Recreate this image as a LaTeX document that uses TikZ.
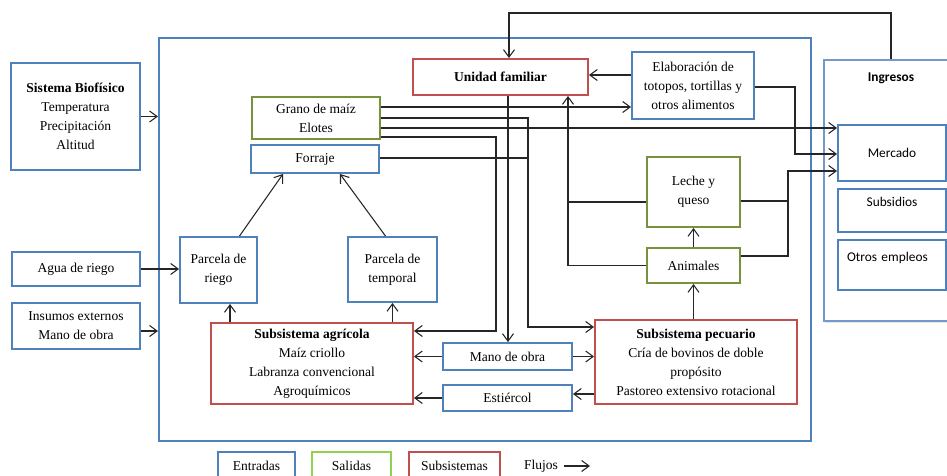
\documentclass[tikz,border=0pt]{standalone}
\usepackage{fontspec}
\setmainfont{Liberation Serif}
\newfontfamily\calibri{Carlito}
\usepackage{xcolor}
\usepackage{tikz}
\usetikzlibrary{arrows.meta,positioning,calc,shadows}
\definecolor{azul}{RGB}{79,129,189}
\definecolor{rojo}{RGB}{192,80,77}
\definecolor{verde}{RGB}{118,146,60}
\definecolor{verdeclaro}{RGB}{146,208,80}

\begin{document}
\begin{tikzpicture}[
    x=0.02cm, y=-0.02cm,
    sz/.style 2 args={minimum width=#1*0.02cm, minimum height=#2*0.02cm},
    caja/.style={rectangle, draw=azul, line width=1.1pt, fill=white, align=center, inner sep=1pt,
        font=\fontsize{7.7pt}{10.8pt}\selectfont},
    entrada/.style={caja, draw=azul},
    salida/.style={caja, draw=verde},
    subsis/.style={caja, draw=rojo},
    ingreso/.style={caja, draw=azul, font=\calibri\fontsize{7.6pt}{10.8pt}\selectfont},
    leyenda/.style={caja, line width=0.6pt},
    flujo/.style={-{Straight Barb[length=1.5mm,width=2.2mm]}, line width=0.6pt, draw=black!85},
    linea/.style={line width=0.6pt, draw=black!85}
]
    \fill[white] (0,0) rectangle (947,476);
    \useasboundingbox (0,0) rectangle (947,476);

    % marco de la unidad de produccion
    \node[rectangle, draw=azul, line width=1.2pt, sz={652}{403}] (finca) at (485,239.5) {};

    % entradas externas
    \node[entrada, sz={129}{107}] (bio) at (75.5,116.5)
        {\textbf{Sistema Biofísico}\\Temperatura\\Precipitación\\Altitud};
    \node[entrada, sz={128}{34}] (agua) at (76,269) {Agua de riego};
    \node[entrada, sz={128}{46}] (insumos) at (76,326) {Insumos externos\\Mano de obra};

    % dentro de la finca
    \node[subsis, sz={175}{36}] (unidad) at (500.5,77) {\textbf{Unidad familiar}};
    \node[entrada, sz={122}{67}] (elab) at (693,85.5)
        {Elaboración de\\totopos, tortillas y\\otros alimentos};
    \node[salida, sz={128}{42}] (grano) at (316,118) {Grano de maíz\\Elotes};
    \node[entrada, sz={128}{28}] (forraje) at (315,159) {Forraje};
    \node[entrada, sz={77}{66}] (riego) at (218.5,270) {Parcela de\\riego};
    \node[entrada, sz={89}{65}] (temporal) at (392.5,269.5) {Parcela de\\temporal};
    \node[subsis, sz={202}{81}] (agricola) at (312,363.5)
        {\textbf{Subsistema agrícola}\\Maíz criollo\\Labranza convencional\\Agroquímicos};
    \node[salida, sz={93}{70}] (leche) at (693.5,192) {Leche y\\queso};
    \node[salida, sz={93}{35}] (animales) at (693.5,265.5) {Animales};
    \node[subsis, sz={202}{84}] (pecuario) at (696,362)
        {\textbf{Subsistema pecuario}\\Cría de bovinos de doble\\propósito\\Pastoreo extensivo rotacional};
    \node[entrada, sz={129}{27}] (mano) at (507.5,356.5) {Mano de obra};
    \node[entrada, sz={129}{26}] (estiercol) at (507.5,398) {Estiércol};

    % ingresos
    \node[rectangle, draw=azul!80, line width=0.6pt, fill=white, sz={134}{261},
        drop shadow={opacity=0.2, shadow xshift=0.6pt, shadow yshift=-1.2pt}] (ingresos) at (891,190.5) {};
    \node[font=\calibri\bfseries\fontsize{7.6pt}{10pt}\selectfont] (ingtit) at (891,78) {Ingresos};
    \node[ingreso, sz={108}{56}] (mercado) at (892,153) {Mercado};
    \node[ingreso, sz={108}{43}] (subsidios) at (892,210.5) {Subsidios\\[-1pt]\mbox{}};
    \node[ingreso, text width=1.8cm, inner xsep=0.18cm, align=left, sz={108}{50}] (otros) at (892,265)
        {Otros empleos\\[-1pt]\mbox{}};

    % leyenda
    \node[leyenda, draw=azul, sz={77}{28}] (ley1) at (256.5,466) {Entradas};
    \node[leyenda, draw=verdeclaro, sz={79}{28}] (ley2) at (351.5,466) {Salidas};
    \node[leyenda, draw=rojo, sz={91}{28}] (ley3) at (454.5,466) {Subsistemas};
    \node[font=\fontsize{7.7pt}{10pt}\selectfont] (ley4) at (541,466) {Flujos};
    \coordinate (ley5) at (590,466);
    \draw[flujo] (ley4.east) -- (ley5);

    % flujos de entrada
    \draw[flujo] (bio.east) -- (bio.east -| finca.west);
    \draw[flujo] (agua.east) -- (agua.east -| riego.west);
    \draw[flujo] (insumos.east |- 0,331) -- (finca.west |- 0,331);

    % subsistema agricola
    \draw[flujo] ([xshift=0.23cm]riego.south |- agricola.north) -- ([xshift=0.23cm]riego.south);
    \draw[flujo] (temporal.south |- agricola.north) -- (temporal.south);
    \draw[flujo] ([xshift=0.42cm]riego.north) -- ([xshift=-0.64cm]forraje.south);
    \draw[flujo] ([xshift=-0.14cm]temporal.north) -- ([xshift=0.5cm]forraje.south);

    % salidas del maiz y forraje
    \coordinate (jpec) at (528,327);
    \coordinate (jagr) at (496,331);
    \draw[flujo] (grano.east |- 0,107) -- (elab.west |- 0,107);
    \draw[flujo] (grano.east |- 0,118) -| (jpec) -- (jpec -| pecuario.west);
    \draw[linea] (forraje.east |- 0,158) -| (jpec);
    \draw[flujo] (grano.east |- 0,128) -- (mercado.west |- 0,128);
    \draw[flujo] (grano.east |- 0,137) -| (jagr) -- (jagr -| agricola.east);

    % unidad familiar
    \draw[flujo] ([xshift=0.01cm]mano.north |- unidad.south) -- ([xshift=0.01cm]mano.north);
    \draw[flujo] (elab.west |- 0,75) -- (unidad.east |- 0,75);
    \draw[flujo] (elab.east |- 0,87) -| (795,154) -- (mercado.west |- 0,154);
    \draw[flujo] (ingresos.north) |- ([xshift=0.17cm]unidad.north |- 0,13) -- ([xshift=0.17cm]unidad.north);

    % subsistema pecuario
    \coordinate (juni) at (unidad.south -| 568,0);
    \coordinate (jmer) at (788,171);
    \draw[flujo] (animales.west) -| (juni);
    \draw[linea] (leche.west |- 0,202) -- (juni |- 0,202);
    \draw[flujo] (animales.east |- 0,256) -| (jmer) -- (mercado.west |- jmer);
    \draw[linea] (leche.east |- 0,201) -- (jmer |- 0,201);
    \draw[flujo] (animales.north) -- (leche.south);
    \draw[flujo] (pecuario.north -| animales.south) -- (animales.south);
    \draw[flujo] (mano.east) -- (mano.east -| pecuario.west);
    \draw[flujo] (mano.west) -- (mano.west -| agricola.east);
    \draw[flujo] (pecuario.west |- 0,394) -- (estiercol.east |- 0,394);
    \draw[flujo] (estiercol.west) -- (estiercol.west -| agricola.east);
\end{tikzpicture}
\end{document}
